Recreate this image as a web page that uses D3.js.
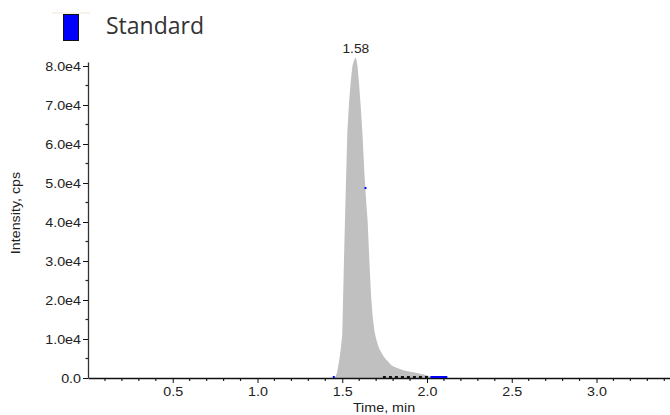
<!DOCTYPE html>
<html>
<head>
<meta charset="utf-8">
<script src="https://cdn.jsdelivr.net/npm/d3@7"></script>
<style>
  html, body { margin: 0; padding: 0; background: #fff; }
  svg { display: block; }
  .tick text { font-family: "Liberation Sans", Arial, sans-serif; font-size: 13px; fill: #222; }
</style>
</head>
<body>
<svg id="chart" width="670" height="415"></svg>
<script>
// Chromatogram trace: retention time (min) and intensity (cps)
const times = [1.45, 1.46, 1.47, 1.48, 1.49, 1.50, 1.51, 1.52, 1.53, 1.54, 1.55, 1.56, 1.57, 1.58,
  1.59, 1.60, 1.61, 1.62, 1.63, 1.64, 1.65, 1.66, 1.67, 1.68, 1.69, 1.70, 1.71, 1.72, 1.73, 1.74,
  1.75, 1.76, 1.77, 1.78, 1.79, 1.80, 1.82, 1.84, 1.86, 1.88, 1.90, 1.92, 1.94, 1.96, 1.98, 2.00, 2.02, 2.04];
const intensities = [0, 300, 1500, 4000, 7000, 11000, 30000, 47000, 63000, 70500, 76000, 80000, 81500, 82300,
  80000, 75000, 69000, 62000, 53000, 46000, 40000, 30000, 21000, 15500, 12000, 10000, 8500, 7400, 6600, 5800,
  5200, 4700, 4200, 3700, 3300, 3000, 2600, 2300, 2000, 1800, 1600, 1500, 1300, 1100, 900, 700, 300, 0];

// Axis ticks
const xTicks = [0.5, 1.0, 1.5, 2.0, 2.5, 3.0];
const yTicks = [0, 10000, 20000, 30000, 40000, 50000, 60000, 70000, 80000];
const yTickLabels = ["0.0", "1.0e4", "2.0e4", "3.0e4", "4.0e4", "5.0e4", "6.0e4", "7.0e4", "8.0e4"];

// Peak annotation and integration markers
const peakLabel = "1.58";
const peakTime = 1.58;
const baselineDashed = [1.74, 2.02];
const baselineBlue = [2.02, 2.12];
const startMark = 1.45;
const pointMark = { t: 1.637, v: 48700 };

const seriesName = "Standard";
const xTitle = "Time, min";
const yTitle = "Intensity, cps";

const svg = d3.select("#chart");
const x0 = 88, y0 = 378;
const stretch = 1.1;   // labels are drawn slightly wide

const x = d3.scaleLinear().domain([0, 3.44]).range([x0, x0 + 3.44 * 169.5]);
const y = d3.scaleLinear().domain([0, 81000]).range([y0, y0 - 8.1 * 39]);

const data = times.map((t, i) => ({ t, v: intensities[i] }));

// Filled peak area
const area = d3.area()
  .x(d => x(d.t))
  .y0(y(0))
  .y1(d => y(d.v))
  .curve(d3.curveLinear);

svg.append("path")
  .datum(data)
  .attr("d", area)
  .attr("fill", "#c0c0c0");

// Minor ticks
const xMinor = d3.range(1, 35).map(i => i / 10).filter(v => Math.abs(v * 2 - Math.round(v * 2)) > 1e-6);
svg.append("g").selectAll("line").data(xMinor).join("line")
  .attr("x1", d => x(d)).attr("x2", d => x(d))
  .attr("y1", y0).attr("y2", y0 + 3)
  .attr("stroke", "#222").attr("stroke-width", 1.2);

const yMinor = d3.range(5000, 81000, 10000);
svg.append("g").selectAll("line").data(yMinor).join("line")
  .attr("x1", x0 - 2.5).attr("x2", x0)
  .attr("y1", d => y(d)).attr("y2", d => y(d))
  .attr("stroke", "#222").attr("stroke-width", 1.2);

// X axis
const xAxis = d3.axisBottom(x)
  .tickValues(xTicks)
  .tickFormat(d3.format(".1f"))
  .tickSize(5)
  .tickPadding(4)
  .tickSizeOuter(0);
const gx = svg.append("g").attr("transform", `translate(0,${y0})`).call(xAxis);
gx.select(".domain").attr("stroke", "#111").attr("stroke-width", 1.3);
gx.selectAll(".tick line").attr("stroke", "#111");
gx.selectAll(".tick text").attr("transform", `scale(${stretch},1)`);

// Y axis
const yAxis = d3.axisLeft(y)
  .tickValues(yTicks)
  .tickFormat((d, i) => yTickLabels[i])
  .tickSize(5)
  .tickPadding(2)
  .tickSizeOuter(0);
const gy = svg.append("g").attr("transform", `translate(${x0},0)`).call(yAxis);
gy.select(".domain").attr("stroke", "#333").attr("stroke-width", 1.3);
gy.selectAll(".tick line").attr("stroke", "#111");
gy.selectAll(".tick text")
  .attr("x", null)
  .attr("transform", `translate(-7,0) scale(${stretch},1)`);

// Integration baseline markers
svg.append("line")
  .attr("x1", x(baselineDashed[0])).attr("x2", x(baselineDashed[1]))
  .attr("y1", y0 - 1).attr("y2", y0 - 1)
  .attr("stroke", "#111").attr("stroke-width", 2)
  .attr("stroke-dasharray", "3,3");
svg.append("line")
  .attr("x1", x(baselineBlue[0])).attr("x2", x(baselineBlue[1]))
  .attr("y1", y0 - 1).attr("y2", y0 - 1)
  .attr("stroke", "#0000ff").attr("stroke-width", 2);
svg.append("line")
  .attr("x1", x(startMark) - 1).attr("x2", x(startMark) + 1)
  .attr("y1", y0 - 1).attr("y2", y0 - 1)
  .attr("stroke", "#0000ff").attr("stroke-width", 2);
svg.append("rect")
  .attr("x", x(pointMark.t) - 1).attr("y", y(pointMark.v) - 1)
  .attr("width", 2).attr("height", 2)
  .attr("fill", "#0000ff");

// Text helper: places a label and widens it slightly
function label(tx, ty, text, size, opts = {}) {
  const rot = opts.rotate ? ` rotate(${opts.rotate})` : "";
  return svg.append("text")
    .attr("transform", `translate(${tx},${ty})${rot} scale(${stretch},1)`)
    .attr("text-anchor", opts.anchor || "middle")
    .attr("font-family", "Liberation Sans, Arial, sans-serif")
    .attr("font-size", size)
    .attr("fill", "#222")
    .text(text);
}

// Peak label
label(x(peakTime), 53, peakLabel, 12.5);

// Axis titles
label(384, 412, xTitle, 13);
label(19.5, 213, yTitle, 13, { rotate: -90 });

// Legend
svg.append("line")
  .attr("x1", 52).attr("x2", 90).attr("y1", 13).attr("y2", 13)
  .attr("stroke", "#efe6d6").attr("stroke-width", 1);
svg.append("rect")
  .attr("x", 63.5).attr("y", 14.5).attr("width", 15).attr("height", 26)
  .attr("fill", "#0000ff").attr("stroke", "#111").attr("stroke-width", 1);
svg.append("text")
  .attr("x", 106).attr("y", 34)
  .attr("font-family", "Open Sans, Noto Sans, sans-serif")
  .attr("font-size", 23)
  .attr("fill", "#333")
  .text(seriesName);
</script>
</body>
</html>
